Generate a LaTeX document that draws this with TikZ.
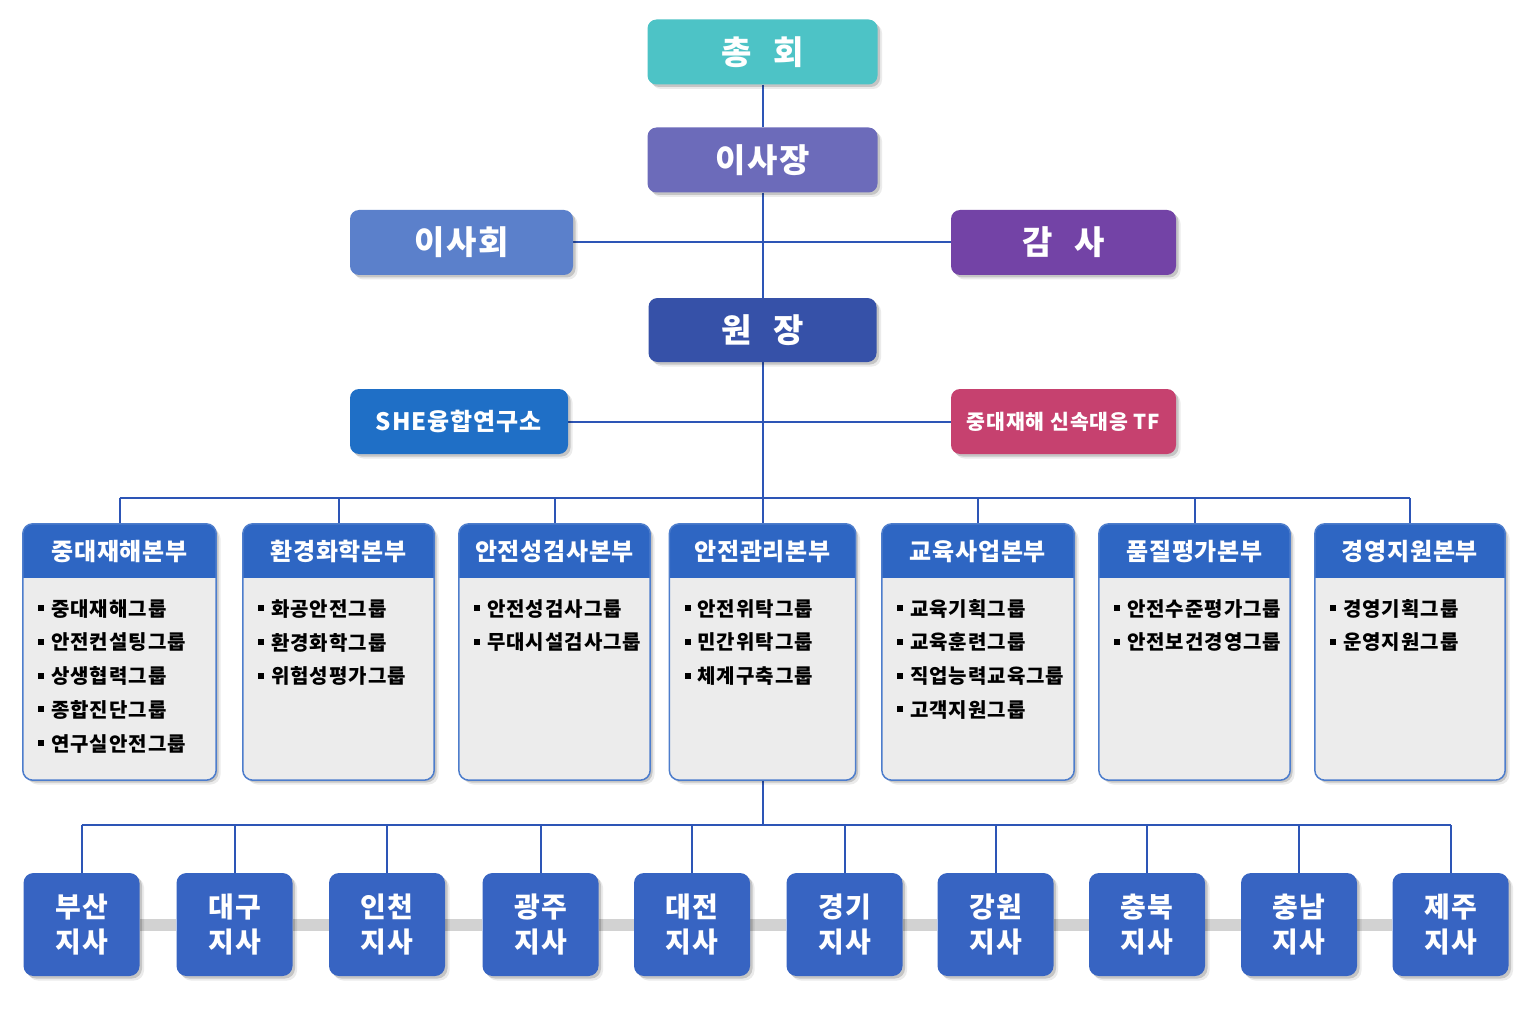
\documentclass[tikz,border=0pt]{standalone}
\usepackage{fontspec}
\setmainfont{Noto Sans CJK KR}
\usetikzlibrary{shadows,backgrounds,calc}
\definecolor{cTop}{HTML}{4DC3C6}
\definecolor{cChair}{HTML}{6C6BBA}
\definecolor{cBoard}{HTML}{5B80CB}
\definecolor{cAudit}{HTML}{7343A6}
\definecolor{cPres}{HTML}{3651A8}
\definecolor{cShe}{HTML}{1F6FC6}
\definecolor{cTf}{HTML}{C6416F}
\definecolor{cHead}{HTML}{2E66C3}
\definecolor{cBody}{HTML}{ECECEC}
\definecolor{cBranch}{HTML}{3764C2}
\definecolor{cLine}{HTML}{2D55B6}
\definecolor{cBar}{HTML}{D2D2D2}
\newcommand{\bul}{\rule[5pt]{6pt}{6pt}\hspace{7pt}}
\tikzset{
  shad/.style={drop shadow={shadow xshift=4.5pt,shadow yshift=-4.5pt,opacity=0.08,fill=black},
               drop shadow={shadow xshift=2.5pt,shadow yshift=-2.5pt,opacity=0.16,fill=black}},
  topbox/.style={shad,rounded corners=9pt,minimum width=230pt,minimum height=65pt,inner sep=0pt,
    text=white,font=\bfseries\fontsize{33pt}{36pt}\selectfont\addfontfeature{LetterSpace=4}},
  midbox/.style={shad,rounded corners=9pt,minimum height=65pt,inner sep=0pt,
    text=white,font=\bfseries\fontsize{24pt}{28pt}\selectfont\addfontfeature{LetterSpace=4}},
  deptbox/.style={shad,rounded corners=10pt,fill=cBody,minimum height=256pt,inner sep=0pt},
  deptborder/.style={draw=cHead!85!white,line width=1.5pt,rounded corners=10pt},
  depttitle/.style={text=white,inner sep=0pt,font=\bfseries\fontsize{24pt}{26pt}\selectfont\addfontfeature{LetterSpace=3}},
  item/.style={text=black,inner sep=0pt,anchor=west,font=\bfseries\fontsize{20pt}{23pt}\selectfont\addfontfeature{LetterSpace=5}},
  branch/.style={shad,rounded corners=10pt,fill=cBranch,minimum width=116pt,minimum height=103pt,
    inner sep=0pt,text=white,align=center,font=\bfseries\fontsize{28pt}{35pt}\selectfont\addfontfeature{LetterSpace=5}},
  conn/.style={draw=cLine,line width=2pt},
  gbar/.style={draw=cBar,line width=12pt},
}
\begin{document}
\begin{tikzpicture}[x=1pt,y=-1pt]
\useasboundingbox (0,0) rectangle (1532,1027);
% top
\node[topbox,fill=cTop] (gm) at (762.5,52) {총\hspace{22pt}회};
\node[topbox,fill=cChair] (chair) at (762.5,160) {이사장};
\node[topbox,fill=cBoard,minimum width=223pt] (board) at (461.5,242.5) {이사회};
\node[topbox,fill=cAudit,minimum width=225pt] (audit) at (1063.5,242.5) {감\hspace{22pt}사};
\node[topbox,fill=cPres,minimum width=228pt,minimum height=64pt] (pres) at (762.5,330) {원\hspace{22pt}장};
\node[midbox,fill=cShe,minimum width=218pt] (she) at (459,421.5) {SHE융합연구소};
\node[midbox,fill=cTf,minimum width=225pt,font=\bfseries\fontsize{20.5pt}{24pt}\selectfont\addfontfeature{LetterSpace=4}] (tf) at (1063.5,421.5) {중대재해 신속대응 TF};
\coordinate (bus) at (762.5,498);
\coordinate (bus2) at (762.5,825);
% departments
\foreach \n/\cx/\w/\title/\items in {
  1/119.5/193/중대재해본부/{중대재해그룹,안전컨설팅그룹,상생협력그룹,종합진단그룹,연구실안전그룹},
  2/338.5/191/환경화학본부/{화공안전그룹,환경화학그룹,위험성평가그룹},
  3/554.5/191/안전성검사본부/{안전성검사그룹,무대시설검사그룹},
  4/762.5/186/안전관리본부/{안전위탁그룹,민간위탁그룹,체계구축그룹},
  5/978/192/교육사업본부/{교육기획그룹,교육훈련그룹,직업능력교육그룹,고객지원그룹},
  6/1194.5/191/품질평가본부/{안전수준평가그룹,안전보건경영그룹},
  7/1410/190/경영지원본부/{경영기획그룹,운영지원그룹}}{
  \node[deptbox,minimum width=\w pt] (d\n) at (\cx,652) {};
  \fill[cHead,rounded corners=10pt] (d\n.north west) rectangle ($(d\n.north east)+(0,54)$);
  \fill[cHead] ($(d\n.north west)+(0,25)$) rectangle ($(d\n.north east)+(0,54)$);
  \draw[deptborder] (d\n.north west) rectangle (d\n.south east);
  \node[depttitle] (dt\n) at ($(d\n.north)+(0,28)$) {\title};
  \foreach \it [count=\k] in \items {
    \node[item] (d\n i\k) at ($(d\n.north west)+(15,85+33.7*\k-33.7)$) {\bul\it};
  }
}
% branches
\foreach \n/\cx/\name in {1/81.5/부산,2/234.5/대구,3/387/인천,4/540.5/광주,5/692/대전,
  6/844.5/경기,7/995.5/강원,8/1147/충북,9/1299/충남,10/1450.5/제주}{
  \node[branch] (b\n) at (\cx,924.5) {\name\\지사};
}
\begin{scope}[on background layer]
  \fill[white] (0,0) rectangle (1532,1027);
  \draw[conn] (gm) -- (chair);
  \draw[conn] (chair) -- (pres);
  \draw[conn] (board) -- (audit);
  \draw[conn] (she) -- (tf);
  \draw[conn] (pres.south) -- (bus);
  \draw[conn] (d1.north |- bus) -- (d7.north |- bus);
  \foreach \n in {1,...,7}{\draw[conn] (d\n.north) -- (d\n.north |- bus);}
  \draw[conn] (d4.south) -- (bus2);
  \draw[conn] (b1.north |- bus2) -- (b10.north |- bus2);
  \foreach \n in {1,...,10}{\draw[conn] (b\n.north) -- (b\n.north |- bus2);}
  \foreach \n [evaluate=\n as \m using int(\n+1)] in {1,...,9}{\draw[gbar] (b\n.east) -- (b\m.west);}
\end{scope}
\end{tikzpicture}
\end{document}
